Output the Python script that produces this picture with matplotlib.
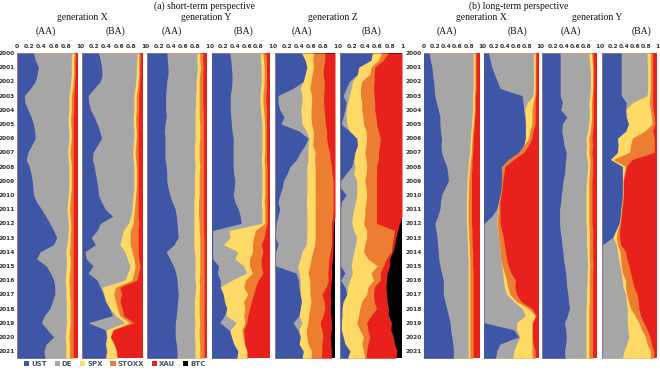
import numpy as np
import matplotlib.pyplot as plt
from matplotlib.patches import Patch

# half-year sampling 2000.0 ... 2021.5
t = np.arange(2000, 2021.51, 0.5)
assets = ['UST', 'DE', 'SPX', 'STOXX', 'XAU', 'BTC']
colors = ['#3F56A6', '#A6A6A6', '#FFD966', '#ED7D31', '#E8211D', '#000000']
ticks = [0, 0.2, 0.4, 0.6, 0.8, 1]
tick_labels = ['0', '0.2', '0.4', '0.6', '0.8', '1']
years = list(range(2000, 2022))
ones = [1.0] * len(t)

# cumulative shares: b1 = UST, b2 = +DE, b3 = +SPX, b4 = +STOXX, b5 = +XAU (rest BTC)
# (a) short-term, generation X, AA
sxaa_b1 = [.27,.30, .35,.33, .30,.22, .12,.13, .18,.23, .27,.29, .30,.24, .18,.15, .20,.23, .25,.26, .27,.32,
           .40,.47, .54,.60, .65,.60, .38,.32, .48,.55, .60,.62, .62,.58, .54,.45, .40,.50, .60,.48, .44,.46]
sxaa_b2 = [.90,.89, .89,.89, .88,.87, .85,.85, .85,.84, .84,.85, .85,.84, .83,.84, .85,.85, .85,.85, .84,.83,
           .82,.83, .84,.84, .83,.82, .80,.81, .81,.80, .79,.80, .80,.81, .81,.81, .81,.80, .79,.80, .80,.80]
sxaa_b3 = [.935,.93, .93,.93, .92,.91, .89,.89, .89,.88, .88,.89, .89,.88, .87,.88, .89,.89, .89,.89, .88,.87,
           .86,.87, .88,.88, .87,.87, .86,.87, .87,.86, .85,.86, .86,.87, .87,.87, .87,.86, .85,.86, .86,.86]
sxaa_b4 = [.96,.955, .95,.95, .945,.94, .93,.93, .93,.92, .92,.92, .92,.92, .92,.92, .92,.92, .92,.92, .92,.92,
           .92,.92, .92,.92, .92,.92, .92,.92, .92,.92, .92,.92, .92,.92, .92,.92, .92,.92, .92,.92, .92,.92]

# (a) short-term, generation X, BA
sxba_b1 = [.27,.30, .32,.33, .30,.20, .10,.11, .14,.20, .25,.29, .32,.25, .18,.17, .20,.22, .24,.26, .27,.32,
           .38,.50, .30,.25, .15,.22, .05,.07, .18,.10, .25,.30, .35,.38, .45,.50, .10,.38, .40,.38, .40,.38]
sxba_b2 = [.90,.90, .89,.89, .88,.87, .85,.85, .85,.84, .84,.85, .85,.84, .83,.84, .85,.85, .85,.85, .84,.83,
           .82,.80, .76,.68, .65,.62, .70,.74, .79,.75, .70,.33, .36,.40, .46,.55, .70,.40, .41,.39, .41,.39]
sxba_b3 = [.93,.93, .93,.93, .92,.91, .89,.89, .89,.88, .88,.89, .89,.88, .87,.88, .89,.89, .89,.89, .88,.87,
           .86,.85, .84,.79, .79,.79, .82,.85, .87,.85, .82,.55, .52,.55, .58,.62, .78,.50, .46,.52, .56,.57]
sxba_b4 = [.96,.955, .95,.95, .945,.94, .93,.93, .93,.92, .92,.92, .92,.92, .92,.92, .92,.92, .92,.92, .92,.92,
           .92,.92, .93,.92, .92,.92, .92,.93, .95,.93, .90,.62, .65,.62, .66,.68, .85,.52, .47,.53, .57,.58]

# (a) short-term, generation Y, AA
syaa_b1 = [.33,.34, .35,.35, .33,.32, .31,.31, .31,.32, .30,.29, .30,.30, .30,.30, .32,.33, .33,.35, .38,.42,
           .47,.49, .50,.51, .52,.45, .32,.38, .44,.48, .50,.51, .52,.51, .50,.49, .47,.47, .47,.49, .50,.50]
syaa_b2 = [.83,.83, .84,.83, .82,.82, .81,.81, .80,.80, .80,.80, .80,.79, .79,.79, .80,.79, .79,.79, .79,.78,
           .78,.78, .78,.78, .78,.78, .79,.80, .80,.80, .80,.81, .80,.79, .79,.79, .80,.79, .79,.80, .80,.80]
syaa_b3 = [.88,.88, .89,.88, .87,.87, .87,.87, .87,.87, .88,.88, .88,.87, .87,.87, .88,.87, .87,.87, .87,.86,
           .86,.86, .87,.87, .88,.88, .88,.88, .88,.88, .87,.88, .87,.87, .87,.87, .88,.87, .87,.88, .88,.88]
syaa_b4 = [.93,.93, .935,.93, .93,.93, .93,.93, .935,.94, .94,.94, .94,.94, .94,.94, .94,.94, .94,.94, .94,.94,
           .94,.94, .94,.94, .95,.95, .95,.95, .95,.95, .95,.95, .95,.95, .95,.95, .95,.95, .95,.95, .95,.95]

# (a) short-term, generation Y, BA
syba_b1 = [.31,.33, .34,.35, .35,.34, .32,.32, .32,.33, .34,.35, .37,.37, .37,.37, .37,.38, .40,.39, .37,.40,
           .46,.49, .51,.02, .02,.02, .02,.02, .12,.10, .15,.15, .20,.22, .26,.22, .14,.30, .34,.38, .45,.43]
syba_b2 = [.83,.84, .85,.85, .85,.84, .83,.83, .84,.85, .86,.86, .86,.86, .86,.85, .86,.86, .86,.86, .86,.85,
           .86,.86, .86,.30, .32,.20, .45,.40, .55,.60, .35,.15, .20,.22, .26,.25, .43,.32, .34,.38, .45,.43]
syba_b3 = [.88,.89, .90,.90, .90,.89, .88,.88, .89,.90, .91,.91, .91,.91, .91,.90, .91,.91, .91,.91, .91,.90,
           .91,.91, .91,.75, .72,.70, .70,.65, .65,.70, .58,.55, .62,.55, .57,.55, .57,.52, .54,.56, .60,.60]
syba_b4 = [.93,.94, .94,.94, .94,.94, .93,.93, .94,.94, .94,.94, .94,.94, .94,.94, .95,.95, .95,.95, .95,.95,
           .95,.95, .95,.92, .90,.85, .88,.85, .85,.88, .80,.75, .72,.68, .65,.62, .60,.55, .56,.57, .61,.61]

# (a) short-term, generation Z, AA
szaa_b1 = [.44,.50, .53,.50, .47,.30, .05,.05, .08,.15, .10,.40, .55,.50, .42,.36, .25,.20, .14,.12, .08,.05,
           .08,.05, .02,.01, .01,.05, .01,.01, .01,.35, .39,.40, .42,.44, .42,.40, .30,.38, .42,.40, .47,.45]
szaa_b2 = [.44,.50, .53,.50, .47,.42, .45,.45, .43,.44, .45,.52, .57,.55, .55,.55, .53,.53, .53,.53, .53,.52,
           .53,.53, .53,.53, .53,.52, .45,.42, .38,.40, .42,.42, .42,.44, .42,.40, .45,.40, .42,.40, .47,.45]
szaa_b3 = [.64,.63, .64,.62, .60,.58, .61,.61, .60,.60, .61,.64, .64,.63, .67,.66, .67,.67, .67,.67, .67,.67,
           .67,.67, .67,.67, .67,.66, .63,.60, .58,.55, .58,.58, .58,.60, .58,.56, .55,.52, .53,.55, .61,.60]
szaa_b4 = [.83,.83, .81,.80, .82,.82, .81,.81, .82,.83, .84,.86, .86,.88, .91,.92, .94,.95, .97,.97, .97,.97,
           .97,.96, .94,.94, .94,.94, .92,.90, .89,.88, .89,.85, .78,.82, .83,.80, .75,.78, .80,.78, .78,.77]
szaa_b5 = [1,1, 1,1, 1,1, 1,1, 1,1, 1,1, 1,1, 1,1, 1,1, 1,1, 1,1,
           1,1, .98,.97, .97,.97, .96,.96, .94,.95, .94,.93, .92,.93, .92,.93, .94,.94, .92,.93, .94,.94]

# (a) short-term, generation Z, BA
szba_b1 = [.52,.50, .30,.28, .15,.10, .05,.10, .08,.05, .02,.15, .27,.28, .24,.22, .19,.10, .01,.01, .10,.02,
           .01,.01, .01,.01, .01,.01, .01,.01, .01,.08, .01,.08, .11,.05, .03,.03, .02,.02, .05,.08, .16,.12]
szba_b2 = [.52,.50, .30,.28, .20,.18, .15,.12, .10,.10, .11,.15, .27,.28, .24,.22, .24,.22, .27,.27, .27,.25,
           .22,.20, .19,.22, .27,.25, .22,.20, .18,.20, .16,.12, .11,.05, .03,.03, .02,.02, .05,.08, .16,.12]
szba_b3 = [.67,.62, .50,.48, .35,.33, .33,.35, .35,.37, .38,.42, .43,.42, .40,.42, .43,.42, .40,.42, .43,.42,
           .40,.40, .38,.43, .43,.40, .38,.45, .60,.50, .54,.45, .43,.35, .32,.30, .27,.32, .38,.35, .38,.40]
szba_b4 = [.78,.70, .56,.55, .55,.54, .55,.56, .56,.58, .59,.62, .65,.64, .62,.62, .59,.59, .59,.59, .59,.59,
           .59,.59, .59,.88, .86,.84, .83,.75, .70,.65, .65,.55, .54,.55, .59,.50, .43,.45, .48,.45, .43,.42]
szba_b5 = [1,1, 1,1, 1,1, 1,1, 1,1, 1,1, 1,1, 1,1, 1,1, 1,1, 1,1,
           1,1, .96,.93, .90,.88, .85,.80, .80,.76, .75,.74, .75,.76, .78,.78, .83,.82, .86,.88, .92,.90]

# (b) long-term, generation X, AA
lxaa_b1 = [.10,.12, .15,.16, .18,.19, .20,.23, .26,.29, .29,.30, .32,.31, .32,.36, .41,.43, .44,.38, .32,.30,
           .29,.25, .20,.22, .24,.25, .26,.27, .29,.32, .35,.35, .35,.38, .41,.44, .47,.48, .50,.52, .53,.53]
lxaa_b2 = [.88,.88, .88,.88, .88,.88, .87,.87, .87,.86, .85,.84, .83,.82, .82,.80, .79,.78, .77,.77, .76,.76,
           .76,.76, .76,.77, .77,.78, .78,.79, .79,.79, .79,.79, .79,.79, .79,.79, .79,.79, .79,.79, .79,.79]
lxaa_b3 = [.91,.91, .91,.91, .91,.91, .90,.90, .90,.89, .88,.87, .86,.85, .85,.83, .82,.81, .80,.80, .79,.79,
           .79,.79, .79,.80, .80,.81, .81,.82, .82,.82, .82,.82, .82,.82, .82,.82, .82,.82, .82,.82, .82,.82]
lxaa_b4 = [.93,.93, .93,.93, .93,.93, .92,.92, .92,.91, .90,.89, .88,.88, .87,.86, .86,.85, .85,.85, .85,.85,
           .85,.85, .85,.86, .86,.86, .87,.87, .87,.88, .88,.88, .88,.88, .88,.88, .88,.88, .88,.88, .88,.88]

# (b) long-term, generation X, BA
lxba_b1 = [.09,.12, .15,.20, .25,.30, .70,.72, .73,.75, .76,.76, .76,.73, .64,.45, .33,.33, .33,.32, .30,.27,
           .24,.15, .01,.01, .01,.01, .01,.01, .01,.01, .01,.01, .01,.01, .01,.01, .01,.55, .64,.30, .24,.22]
lxba_b2 = [.91,.91, .91,.91, .91,.91, .90,.80, .75,.76, .76,.76, .76,.73, .64,.45, .33,.33, .33,.32, .30,.27,
           .26,.25, .24,.26, .27,.29, .30,.31, .33,.35, .36,.38, .42,.55, .70,.76, .60,.60, .66,.60, .55,.53]
lxba_b3 = [.94,.94, .94,.94, .94,.94, .93,.90, .88,.88, .88,.84, .82,.73, .64,.45, .34,.33, .33,.32, .30,.27,
           .27,.26, .25,.26, .27,.29, .30,.31, .34,.38, .42,.44, .48,.60, .82,.94, .88,.88, .88,.88, .88,.89]
lxba_b4 = [.955,.955, .955,.955, .955,.955, .95,.94, .94,.94, .94,.90, .88,.82, .73,.55, .39,.37, .35,.34, .32,.30,
           .30,.30, .30,.33, .36,.38, .40,.42, .45,.50, .58,.57, .60,.68, .88,.96, .89,.89, .89,.90, .94,.94]

# (b) long-term, generation Y, AA
lyaa_b1 = [.33,.33, .33,.33, .33,.33, .33,.37, .34,.45, .37,.36, .38,.40, .44,.43, .42,.41, .38,.37, .35,.34,
           .32,.32, .32,.33, .35,.36, .38,.39, .41,.43, .44,.45, .47,.48, .50,.46, .41,.43, .44,.43, .41,.42]
lyaa_b2 = [.85,.86, .87,.88, .88,.88, .87,.85, .86,.86, .85,.83, .80,.81, .80,.82, .83,.82, .81,.80, .80,.80,
           .80,.80, .80,.81, .81,.81, .82,.82, .83,.82, .82,.81, .81,.81, .80,.80, .80,.80, .80,.80, .80,.80]
lyaa_b3 = [.90,.91, .92,.92, .92,.92, .91,.90, .90,.90, .89,.88, .85,.86, .85,.87, .87,.86, .85,.85, .85,.85,
           .85,.85, .85,.86, .86,.86, .86,.86, .87,.86, .86,.86, .86,.86, .85,.85, .85,.85, .85,.85, .85,.85]
lyaa_b4 = [.93,.93, .94,.94, .94,.94, .93,.93, .93,.93, .93,.92, .91,.92, .91,.92, .92,.92, .91,.91, .91,.91,
           .91,.91, .91,.92, .92,.92, .92,.92, .93,.92, .92,.92, .92,.92, .92,.92, .92,.92, .92,.92, .92,.92]

# (b) long-term, generation Y, BA
lyba_b1 = [.35,.35, .35,.35, .35,.35, .35,.44, .43,.44, .48,.43, .28,.29, .28,.15, .37,.37, .37,.37, .37,.36,
           .34,.33, .31,.25, .19,.01, .01,.01, .01,.01, .01,.01, .01,.01, .01,.01, .01,.01, .01,.01, .01,.01]
lyba_b2 = [.82,.82, .83,.83, .83,.83, .82,.55, .43,.44, .48,.43, .28,.29, .28,.15, .37,.37, .37,.37, .37,.36,
           .34,.33, .31,.25, .20,.26, .28,.30, .33,.35, .37,.38, .43,.44, .46,.46, .46,.47, .49,.45, .40,.37]
lyba_b3 = [.88,.88, .88,.88, .88,.88, .87,.86, .88,.90, .91,.78, .55,.52, .50,.20, .43,.40, .38,.38, .38,.37,
           .35,.34, .32,.28, .26,.28, .33,.34, .35,.37, .43,.43, .45,.48, .52,.60, .67,.72, .79,.82, .88,.88]
lyba_b4 = [.92,.92, .92,.92, .92,.92, .92,.92, .93,.95, .96,.92, .95,.95, .95,.55, .44,.42, .39,.39, .39,.38,
           .36,.35, .34,.32, .32,.34, .43,.45, .49,.52, .55,.58, .64,.66, .67,.70, .76,.82, .87,.90, .94,.94]

panels = [
    ([sxaa_b1, sxaa_b2, sxaa_b3, sxaa_b4, ones], 17, 78, True),
    ([sxba_b1, sxba_b2, sxba_b3, sxba_b4, ones], 82, 143, False),
    ([syaa_b1, syaa_b2, syaa_b3, syaa_b4, ones], 147, 207, False),
    ([syba_b1, syba_b2, syba_b3, syba_b4, ones], 211.5, 270, False),
    ([szaa_b1, szaa_b2, szaa_b3, szaa_b4, szaa_b5], 275, 335, False),
    ([szba_b1, szba_b2, szba_b3, szba_b4, szba_b5], 340, 402, False),
    ([lxaa_b1, lxaa_b2, lxaa_b3, lxaa_b4, ones], 423.5, 480, True),
    ([lxba_b1, lxba_b2, lxba_b3, lxba_b4, ones], 483.5, 538.5, False),
    ([lyaa_b1, lyaa_b2, lyaa_b3, lyaa_b4, ones], 542, 597, False),
    ([lyba_b1, lyba_b2, lyba_b3, lyba_b4, ones], 602, 657, False),
]

W, H = 660, 370
top, bottom = 52, 357.5
fig = plt.figure(figsize=(6.6, 3.7), dpi=100)

for bounds, x0, x1, show_years in panels:
    ax = fig.add_axes([x0 / W, 1 - bottom / H, (x1 - x0) / W, (bottom - top) / H])
    cums = [np.array(b) for b in bounds] + [np.ones(len(t))]
    # paint from the outermost band inward so no seams show
    for k in range(5, -1, -1):
        ax.fill_betweenx(t, 0, cums[k], color=colors[k], lw=0)
    ax.set_xlim(0, 1)
    ax.set_ylim(2021.45, 1999.93)
    for s in ax.spines.values():
        s.set_visible(False)
    ax.xaxis.tick_top()
    ax.set_xticks(ticks)
    ax.set_xticklabels(tick_labels, fontsize=4.3, fontweight='bold', color='#333333')
    ax.tick_params(axis='x', length=0, pad=2.5)
    if show_years:
        ax.set_yticks(years)
        ax.set_yticklabels(years, fontsize=4.2, fontweight='bold', color='#333333')
        ax.tick_params(axis='y', length=0, pad=1.5)
    else:
        ax.set_yticks([])

headers = [
    ('(a) short-term perspective', 205, 6),
    ('generation X', 82, 18), ('generation Y', 206, 18), ('generation Z', 333, 18),
    ('(AA)', 46, 31), ('(BA)', 116, 31), ('(AA)', 172, 31), ('(BA)', 243, 31),
    ('(AA)', 302, 31), ('(BA)', 372, 31),
    ('(b) long-term perspective', 519, 6),
    ('generation X', 481, 18), ('generation Y', 597, 18),
    ('(AA)', 447, 31), ('(BA)', 518, 31), ('(AA)', 571, 31), ('(BA)', 641, 31),
]
for txt, x, y in headers:
    fig.text(x / W, 1 - y / H, txt, ha='center', va='center',
             family='Liberation Serif', fontsize=7, color='#111111')

handles = [Patch(facecolor=c, edgecolor='none') for c in colors]
fig.legend(handles, assets, loc='center left', bbox_to_anchor=(24 / W, 1 - 364 / H),
           ncol=6, frameon=False, handlelength=0.75, handleheight=0.75,
           handletextpad=0.3, columnspacing=1.1, borderpad=0, borderaxespad=0,
           prop={'weight': 'bold', 'size': 5}, labelcolor='#44546A')

fig.savefig('out.png', dpi=100)
